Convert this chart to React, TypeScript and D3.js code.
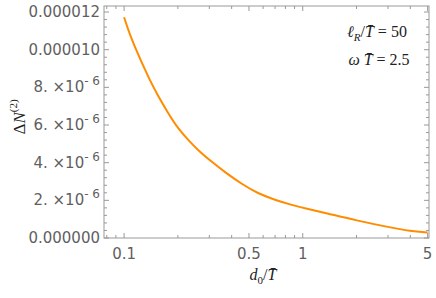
import React from "react";
import * as d3 from "d3";

const width = 436;
const height = 298;

// curve samples (d0/T, ΔN)
const dValues = [
  0.1, 0.11, 0.126, 0.14, 0.156, 0.177, 0.2, 0.23, 0.26, 0.31, 0.37, 0.46, 0.56, 0.7,
  0.87, 1.07, 1.33, 2, 3.08, 4, 5,
];
const nValues = [
  11.72e-6, 10.54e-6, 9.29e-6, 8.34e-6, 7.49e-6, 6.61e-6, 5.82e-6, 5.18e-6, 4.65e-6,
  4.04e-6, 3.47e-6, 2.84e-6, 2.37e-6, 2.02e-6, 1.75e-6, 1.54e-6, 1.34e-6, 0.93e-6,
  0.56e-6, 0.37e-6, 0.29e-6,
];

const xMajor = [0.1, 0.5, 1, 5];
const xMajorLabels = ["0.1", "0.5", "1", "5"];
const xMinor = [0.08, 0.09, 0.2, 0.3, 0.4, 0.6, 0.7, 0.8, 0.9, 2, 3, 4];
const yMajor = [0, 2e-6, 4e-6, 6e-6, 8e-6, 10e-6, 12e-6];
const yMajorLabels = ["0.000000", "2.", "4.", "6.", "8.", "0.000010", "0.000012"];

const margin = { left: 104, right: 7, top: 6, bottom: 60 };
const gray = "#5f5f5f";
const axisColor = "#999";

const App = () => {
  const x = d3
    .scaleLog()
    .domain([0.0772, 5.09])
    .range([margin.left, width - margin.right]);
  const y = d3
    .scaleLinear()
    .domain([0, 12.32e-6])
    .range([height - margin.bottom, margin.top]);

  const yMinor: number[] = [];
  for (let k = 1; k <= 30; k++) {
    if (k % 5 !== 0) yMinor.push(k * 0.4e-6);
  }

  // basis spline smooths out reading noise in the samples
  const line = d3
    .line<number>()
    .x((_, i) => x(dValues[i]))
    .y((d) => y(d))
    .curve(d3.curveBasis);

  const x0 = margin.left;
  const x1 = width - margin.right;
  const y0 = height - margin.bottom;
  const y1 = margin.top;

  return (
    <svg width={width} height={height} style={{ position: "absolute", left: 0, top: 0 }}>
      <rect width={width} height={height} fill="white" />
      <rect x={x0} y={y1} width={x1 - x0} height={y0 - y1} fill="none" stroke={axisColor} strokeWidth={1} />

      {xMajor.map((t) => (
        <g key={"xM" + t}>
          <line x1={x(t)} x2={x(t)} y1={y0} y2={y0 - 5} stroke={axisColor} />
          <line x1={x(t)} x2={x(t)} y1={y1} y2={y1 + 5} stroke={axisColor} />
        </g>
      ))}
      {xMinor.map((t) => (
        <g key={"xm" + t}>
          <line x1={x(t)} x2={x(t)} y1={y0} y2={y0 - 3} stroke={axisColor} />
          <line x1={x(t)} x2={x(t)} y1={y1} y2={y1 + 3} stroke={axisColor} />
        </g>
      ))}
      {yMajor.map((t) => (
        <g key={"yM" + t}>
          <line x1={x0} x2={x0 + 5} y1={y(t)} y2={y(t)} stroke={axisColor} />
          <line x1={x1} x2={x1 - 5} y1={y(t)} y2={y(t)} stroke={axisColor} />
        </g>
      ))}
      {yMinor.map((t) => (
        <g key={"ym" + t}>
          <line x1={x0} x2={x0 + 3} y1={y(t)} y2={y(t)} stroke={axisColor} />
          <line x1={x1} x2={x1 - 3} y1={y(t)} y2={y(t)} stroke={axisColor} />
        </g>
      ))}

      <g fontFamily="DejaVu Sans" fontSize={15} fill={gray}>
        {xMajor.map((t, i) => (
          <text key={"xl" + t} x={x(t)} y={y0 + 21} textAnchor="middle">
            {xMajorLabels[i]}
          </text>
        ))}
        {yMajor.map((t, i) => {
          const lab = yMajorLabels[i];
          const sci = lab.length <= 2;
          return (
            <text key={"yl" + t} x={x0 - 4} y={y(t) + 5} textAnchor="end">
              {sci ? (
                <>
                  {lab + " \u00d710"}
                  <tspan fontSize={12} dy={-7}>{"- 6"}</tspan>
                </>
              ) : (
                lab
              )}
            </text>
          );
        })}
      </g>

      <path d={line(nValues) || ""} fill="none" stroke="#ff8c00" strokeWidth={2} />

      <g fontFamily="Liberation Serif" fontSize={16} fill="#222">
        <text x={377} y={37} textAnchor="middle">
          <tspan fontStyle="italic">ℓ</tspan>
          <tspan fontStyle="italic" fontSize={11} dy={4}>R</tspan>
          <tspan dy={-4}>/</tspan>
          <tspan fontStyle="italic">T̄</tspan>
          <tspan>{" = 50"}</tspan>
        </text>
        <text x={379} y={65} textAnchor="middle">
          <tspan fontStyle="italic">ω</tspan>
          <tspan fontStyle="italic">{" T̄"}</tspan>
          <tspan>{" = 2.5"}</tspan>
        </text>
        <text x={263} y={280} textAnchor="middle">
          <tspan fontStyle="italic">d</tspan>
          <tspan fontSize={11} dy={4}>0</tspan>
          <tspan dy={-4}>/</tspan>
          <tspan fontStyle="italic">T̄</tspan>
        </text>
        <text transform="translate(25,117) rotate(-90)" textAnchor="middle" fontSize={17}>
          <tspan>Δ</tspan>
          <tspan fontStyle="italic">N</tspan>
          <tspan fontSize={11} dy={-8}>(2)</tspan>
        </text>
      </g>
    </svg>
  );
};

export default App;
